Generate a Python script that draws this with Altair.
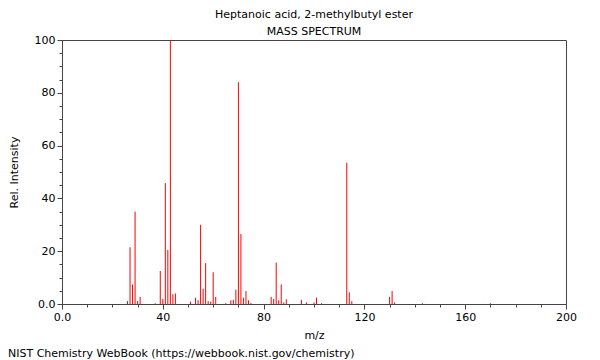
import altair as alt
import pandas as pd

title_main = "Heptanoic acid, 2-methylbutyl ester"
title_sub = "MASS SPECTRUM"
footer = "NIST Chemistry WebBook (https://webbook.nist.gov/chemistry)"

mz = [26, 27, 28, 29, 30, 31, 37, 39, 40, 41, 42, 43, 44, 45, 51, 53, 54, 55, 56, 57,
      58, 59, 60, 61, 65, 67, 68, 69, 70, 71, 72, 73, 74, 75, 83, 84, 85, 86, 87, 88,
      89, 95, 97, 100, 101, 103, 113, 114, 115, 130, 131, 132, 143, 170]
intensity = [1.1, 21.5, 7.4, 35.0, 1.1, 2.7, 0.3, 12.5, 1.9, 45.8, 20.5, 100.0, 3.7, 4.0,
             0.9, 2.4, 1.4, 30.0, 5.8, 15.5, 1.1, 0.9, 12.0, 2.7, 0.3, 1.4, 1.6, 5.4,
             84.0, 26.5, 2.4, 4.9, 1.4, 0.4, 2.7, 1.9, 15.7, 1.4, 7.4, 0.6, 1.8, 1.6,
             0.6, 0.6, 2.4, 0.3, 53.5, 4.4, 1.1, 2.7, 4.9, 0.6, 0.3, 0.3]

x_ticks = list(range(0, 201, 10))
y_ticks = list(range(0, 101, 5))

W, H = 504, 264
FONT = "DejaVu Sans"

df = pd.DataFrame({"mz": mz, "intensity": intensity, "zero": [0] * len(mz)})

x_axis = alt.Axis(
    values=x_ticks,
    labelExpr="datum.value % 40 == 0 ? (datum.value == 0 ? '0.0' : datum.label) : ''",
    tickSize={"condition": {"test": "datum.value % 40 == 0", "value": 5}, "value": 3},
    labelOverlap=False,
    labelFlush=False,
    grid=False,
    title="m/z",
    titleFontWeight="normal",
    titleFont=FONT,
    titleFontSize=11,
    labelFont=FONT,
    labelFontSize=11,
    labelColor="black",
    titleColor="black",
    domainColor="#444",
    tickColor="#444",
    titlePadding=7,
)
y_axis = alt.Axis(
    values=y_ticks,
    labelExpr="datum.value % 20 == 0 ? (datum.value == 0 ? '0.0' : datum.label) : ''",
    tickSize={"condition": {"test": "datum.value % 20 == 0", "value": 5}, "value": 3},
    labelOverlap=False,
    labelFlush=False,
    grid=False,
    title="Rel. Intensity",
    titleFontWeight="normal",
    titleFont=FONT,
    titleFontSize=11,
    labelFont=FONT,
    labelFontSize=11,
    labelColor="black",
    titleColor="black",
    domainColor="#444",
    tickColor="#444",
    titlePadding=15,
)

peaks = alt.Chart(df).mark_rule(color="#ff0000", strokeWidth=1).encode(
    x=alt.X("mz:Q", scale=alt.Scale(domain=[0, 200], nice=False, zero=False), axis=x_axis),
    y=alt.Y("intensity:Q", scale=alt.Scale(domain=[0, 100], nice=False), axis=y_axis),
    y2="zero:Q",
)

foot = alt.Chart(pd.DataFrame({"t": [footer]})).mark_text(
    align="left", baseline="middle", font=FONT, fontSize=11, color="black"
).encode(text="t:N", x=alt.value(-54), y=alt.value(H + 50))

chart = alt.layer(peaks, foot).properties(
    width=W,
    height=H,
    autosize=alt.AutoSizeParams(type="none"),
    padding={"left": 54, "top": 32, "right": 26, "bottom": 56},
    title=alt.TitleParams(
        text=title_main,
        subtitle=title_sub,
        font=FONT,
        fontSize=11,
        fontWeight="normal",
        subtitleFont=FONT,
        subtitleFontSize=11,
        color="black",
        subtitleColor="black",
        anchor="middle",
        offset=-3,
        subtitlePadding=6,
    ),
).configure_view(stroke="#444", strokeWidth=1)

chart.save("out.html", embed_options={"renderer": "svg", "actions": False})
